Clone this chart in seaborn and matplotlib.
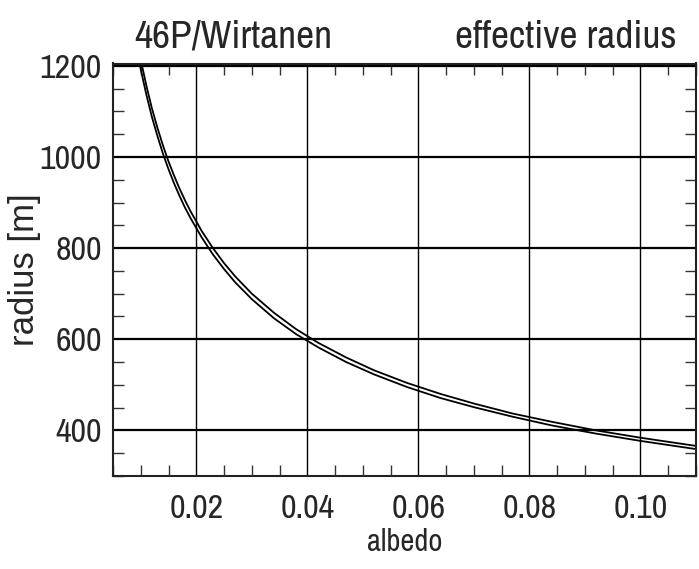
import numpy as np
import pandas as pd
import matplotlib
matplotlib.use("Agg")
import matplotlib.pyplot as plt
import seaborn as sns
from matplotlib.ticker import MultipleLocator

# Data
albedo = [0.009, 0.010, 0.011, 0.012, 0.013, 0.014, 0.015, 0.016, 0.017, 0.018,
          0.019, 0.021, 0.023, 0.025, 0.027, 0.030, 0.034, 0.038, 0.042, 0.047,
          0.052, 0.058, 0.064, 0.070, 0.077, 0.084, 0.092, 0.100, 0.110]
radius_upper = [1279, 1213, 1157, 1107, 1064, 1025, 990, 959, 930, 904,
                880, 837, 800, 767, 738, 700, 658, 622, 592, 560,
                532, 504, 480, 459, 437, 419, 400, 384, 366]
radius_lower = [1257, 1192, 1137, 1088, 1046, 1007, 973, 942, 914, 888,
                865, 823, 786, 754, 725, 688, 646, 611, 582, 550,
                523, 495, 471, 451, 430, 411, 393, 377, 359]

xticks = [0.02, 0.04, 0.06, 0.08, 0.10]
xticklabels = ["0.02", "0.04", "0.06", "0.08", "0.10"]
yticks = [400, 600, 800, 1000, 1200]
yticklabels = ["400", "600", "800", "1000", "1200"]

df = pd.DataFrame({
    "albedo": albedo * 2,
    "radius": radius_upper + radius_lower,
    "series": ["upper"] * len(albedo) + ["lower"] * len(albedo),
})

sns.set_style("ticks")
narrow = ["Archivo Narrow", "Roboto Condensed", "Liberation Sans", "DejaVu Sans"]
plt.rcParams["font.family"] = narrow

fig = plt.figure(figsize=(6.99, 5.69), dpi=100)
ax = fig.add_axes([113 / 699, 1 - 476 / 569, (696 - 113) / 699, (476 - 63.5) / 569])

sns.lineplot(data=df, x="albedo", y="radius", hue="series",
             palette={"upper": "black", "lower": "black"},
             legend=False, linewidth=1.3, ax=ax, sort=False, estimator=None)

ax.set_xlim(0.005, 0.11)
ax.set_ylim(300, 1205)

ax.set_xticks(xticks)
ax.set_xticklabels(xticklabels)
ax.set_yticks(yticks)
ax.set_yticklabels(yticklabels)
ax.xaxis.set_minor_locator(MultipleLocator(0.005))
ax.yaxis.set_minor_locator(MultipleLocator(50))

ax.grid(True, which="major", axis="x", color="black", linewidth=1.0)
ax.grid(True, which="major", axis="y", color="black", linewidth=1.6)

ax.tick_params(which="both", direction="in", top=True, right=True, color="#333333")
ax.tick_params(which="major", length=0, labelsize=24.5, pad=8)
ax.tick_params(axis="x", which="major", pad=13)
ax.tick_params(which="minor", length=8, width=1.0)

for s in ax.spines.values():
    s.set_linewidth(1.5)
    s.set_color("#222222")

ax.set_xlabel("albedo", fontsize=22)
ax.xaxis.set_label_coords(0.5, -0.125)
ax.set_ylabel("radius [m]", fontsize=25, family=["Liberation Sans", "DejaVu Sans"])
ax.yaxis.set_label_coords(-0.152, 0.5)
ax.yaxis.label.set_va("center")

fig.text(233 / 699, 1 - 48 / 569, "46P/Wirtanen", fontsize=28.5, ha="center", va="baseline")
fig.text(566 / 699, 1 - 48 / 569, "effective radius", fontsize=28.5, ha="center", va="baseline")

fig.savefig("out.png", dpi=100)
